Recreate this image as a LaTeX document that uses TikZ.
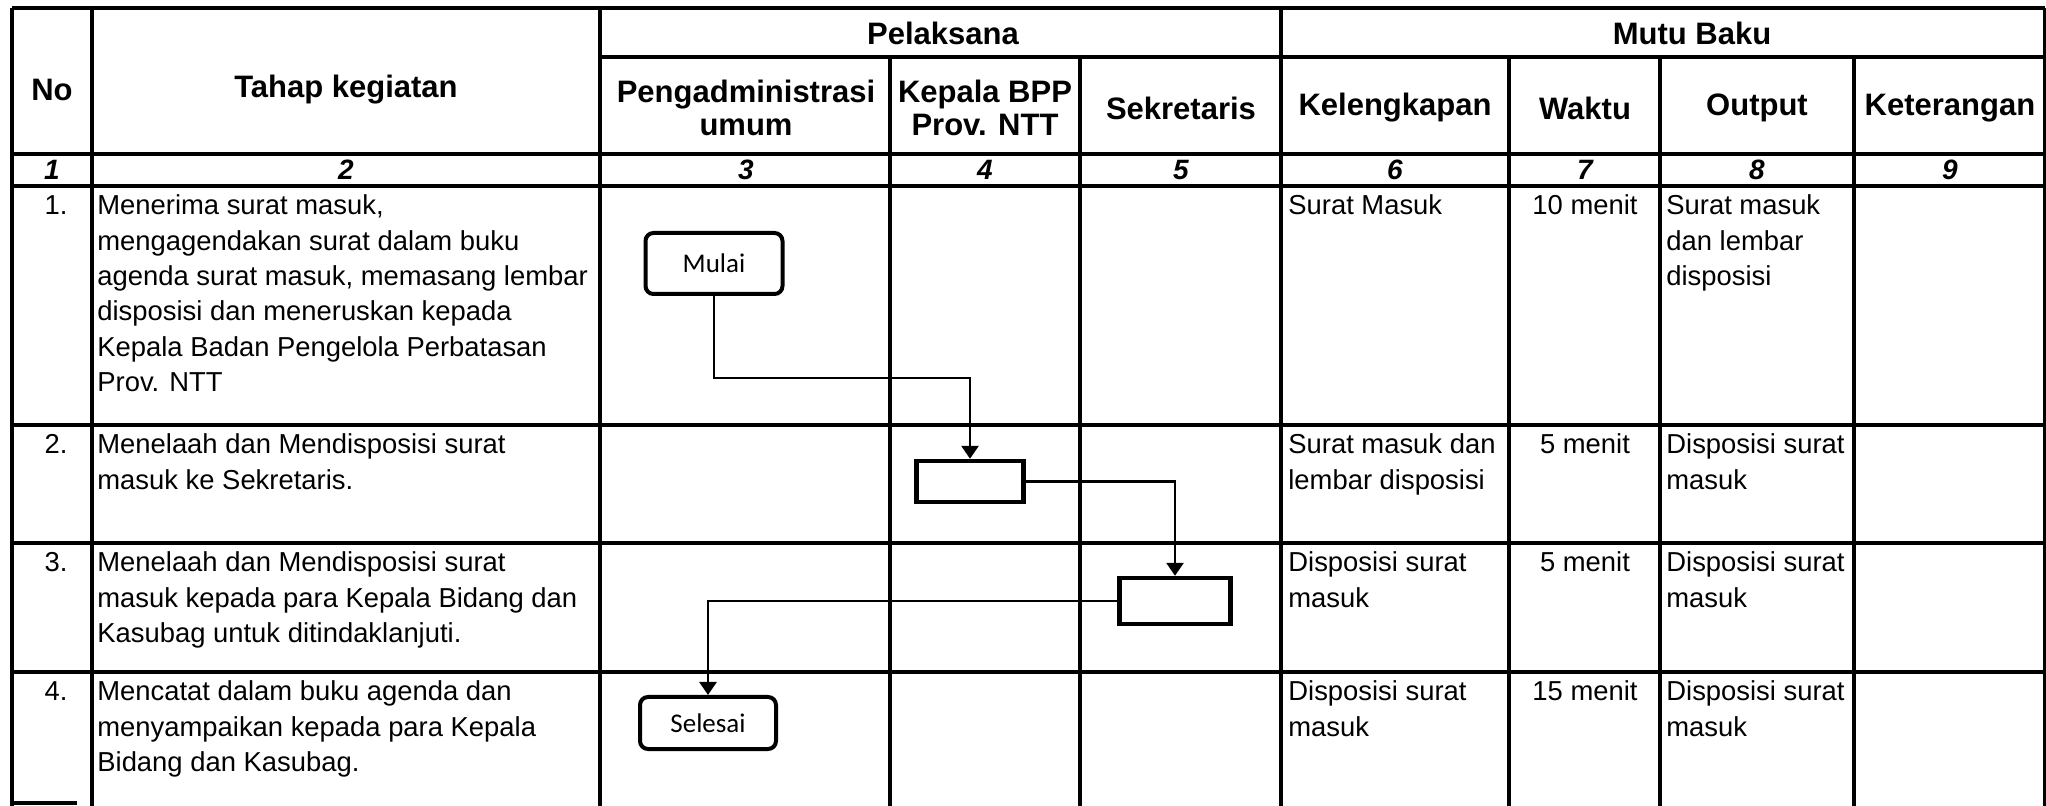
\documentclass[tikz,border=0pt]{standalone}
\usepackage{fontspec}
\setmainfont{Liberation Sans}
\newfontfamily\calfont{Carlito}
\usetikzlibrary{arrows.meta}
\newcommand{\ml}[1]{\begin{tabular}[t]{@{}l@{}}#1\end{tabular}}
\begin{document}
\begin{tikzpicture}[x=0.5pt,y=-0.5pt,
 grid/.style={line width=1.9pt},
 body/.style={font=\fontsize{13.7}{17.65}\selectfont, inner sep=0pt, anchor=base west},
 ctr/.style={font=\fontsize{13.7}{17.65}\selectfont, inner sep=0pt, anchor=base},
 nr/.style={font=\fontsize{13.7}{17.65}\selectfont, inner sep=0pt, anchor=base east},
 hdr/.style={font=\fontsize{15.5}{16.5}\selectfont\bfseries, align=center, inner sep=0pt},
 numr/.style={font=\fontsize{14}{14}\selectfont\bfseries\itshape, inner sep=0pt},
 term/.style={draw, line width=2pt, rounded corners=4pt, font=\calfont\fontsize{13.5}{14}\selectfont, inner sep=0pt},
 act/.style={draw, line width=2.2pt, inner sep=0pt},
 arr/.style={line width=1.4pt, -{Triangle[length=6.5pt,width=8.5pt]}},
]
\useasboundingbox (0,0) rectangle (2046,806);
% horizontal lines
\draw[grid] (12,8) -- (2045,8);
\draw[grid] (600,57) -- (2045,57);
\draw[grid] (12,154) -- (2045,154);
\draw[grid] (12,186) -- (2045,186);
\draw[grid] (12,425) -- (2045,425);
\draw[grid] (12,543) -- (2045,543);
\draw[grid] (12,672) -- (2045,672);
\draw[grid] (12,803) -- (77,803);
% vertical lines
\foreach \x in {12,92,600,1281,2045} \draw[grid] (\x,8) -- (\x,806);
\foreach \x in {890,1080,1509,1660,1854} \draw[grid] (\x,57) -- (\x,806);
% headers
\node[hdr] (hno) at (52,90) {No};
\node[hdr] (htahap) at (346,90) {Tahap kegiatan};
\node[hdr] (hpel) at (943,33) {Pelaksana};
\node[hdr] (hmutu) at (1692,33) {Mutu Baku};
\node[hdr] (hpeng) at (746,108) {Pengadministrasi\\umum};
\node[hdr] (hkep) at (985,108) {Kepala BPP\\Prov. NTT};
\node[hdr] (hsek) at (1181,108) {Sekretaris};
\node[hdr] (hkel) at (1395,108) {Kelengkapan};
\node[hdr] (hwak) at (1585,108) {Waktu};
\node[hdr] (hout) at (1757,108) {Output};
\node[hdr] (hket) at (1950,108) {Keterangan};
% number row
\node[numr] (n1) at (52,170) {1};
\node[numr] (n2) at (346,170) {2};
\node[numr] (n3) at (746,170) {3};
\node[numr] (n4) at (985,170) {4};
\node[numr] (n5) at (1181,170) {5};
\node[numr] (n6) at (1395,170) {6};
\node[numr] (n7) at (1585,170) {7};
\node[numr] (n8) at (1757,170) {8};
\node[numr] (n9) at (1950,170) {9};
% row 1
\node[nr] (r1no) at (68,215) {1.};
\node[body] (r1t) at (97,215) {\ml{Menerima surat masuk,\\mengagendakan surat dalam buku\\agenda surat masuk, memasang lembar\\disposisi dan meneruskan kepada\\Kepala Badan Pengelola Perbatasan\\Prov. NTT}};
\node[body] (r1k) at (1288,215) {Surat Masuk};
\node[ctr] (r1w) at (1585,215) {10 menit};
\node[body] (r1o) at (1666,215) {\ml{Surat masuk\\dan lembar\\disposisi}};
% row 2
\node[nr] (r2no) at (68,454) {2.};
\node[body] (r2t) at (97,454) {\ml{Menelaah dan Mendisposisi surat\\masuk ke Sekretaris.}};
\node[body] (r2k) at (1288,454) {\ml{Surat masuk dan\\lembar disposisi}};
\node[ctr] (r2w) at (1585,454) {5 menit};
\node[body] (r2o) at (1666,454) {\ml{Disposisi surat\\masuk}};
% row 3
\node[nr] (r3no) at (68,572) {3.};
\node[body] (r3t) at (97,572) {\ml{Menelaah dan Mendisposisi surat\\masuk kepada para Kepala Bidang dan\\Kasubag untuk ditindaklanjuti.}};
\node[body] (r3k) at (1288,572) {\ml{Disposisi surat\\masuk}};
\node[ctr] (r3w) at (1585,572) {5 menit};
\node[body] (r3o) at (1666,572) {\ml{Disposisi surat\\masuk}};
% row 4
\node[nr] (r4no) at (68,701) {4.};
\node[body] (r4t) at (97,701) {\ml{Mencatat dalam buku agenda dan\\menyampaikan kepada para Kepala\\Bidang dan Kasubag.}};
\node[body] (r4k) at (1288,701) {\ml{Disposisi surat\\masuk}};
\node[ctr] (r4w) at (1585,701) {15 menit};
\node[body] (r4o) at (1666,701) {\ml{Disposisi surat\\masuk}};
% flow
\node[term, minimum width=68.5pt, minimum height=30.5pt] (mulai) at (714,263.5) {Mulai};
\node[act, minimum width=53.5pt, minimum height=20.5pt] (b2) at (970,481.5) {};
\node[act, minimum width=55.5pt, minimum height=23pt] (b3) at (1175,601) {};
\node[term, minimum width=68pt, minimum height=26pt] (selesai) at (708,723) {Selesai};
\coordinate (c1) at (714,378);
\draw[arr] (mulai.south) -- (c1) -| (b2.north);
\draw[arr] (b2.east) -| (b3.north);
\draw[arr] (b3.west) -| (selesai.north);
\end{tikzpicture}
\end{document}
